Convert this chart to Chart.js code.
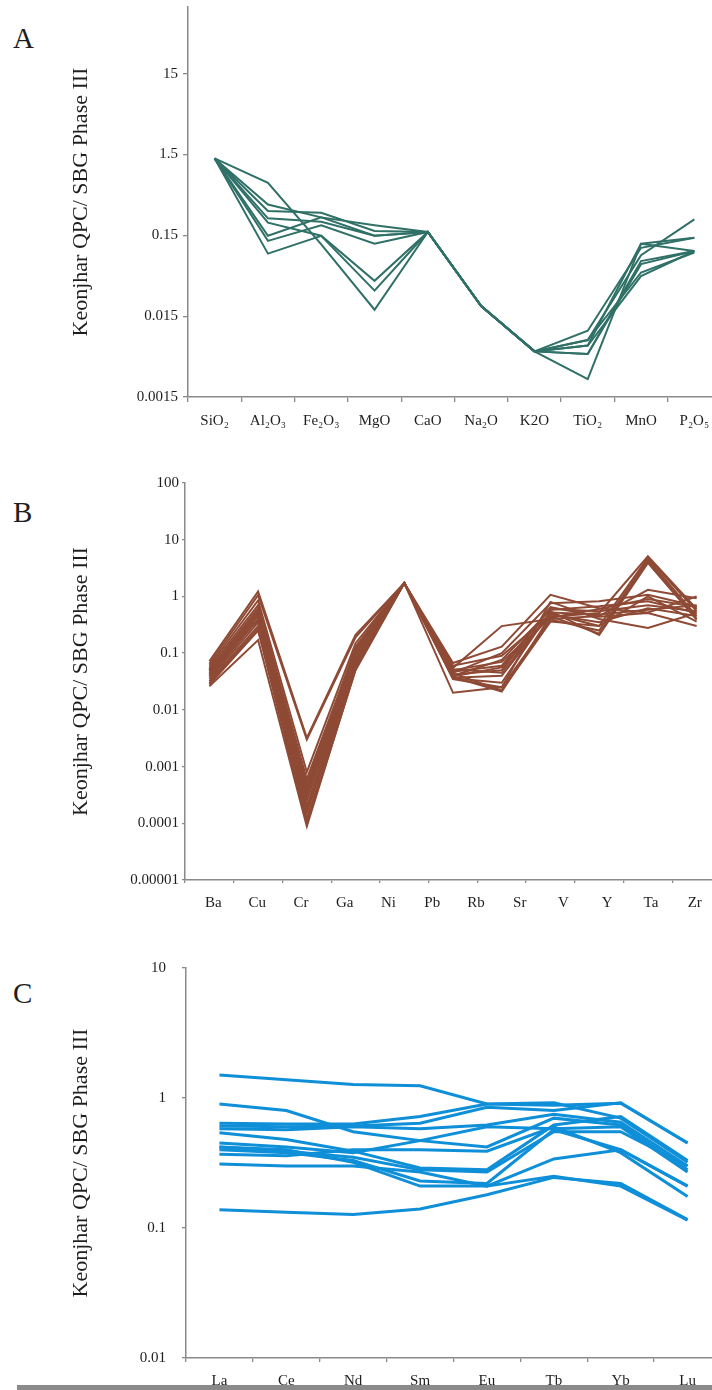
<!DOCTYPE html>
<html>
<head>
<meta charset="utf-8">
<script src="https://cdn.jsdelivr.net/npm/chart.js@4.4.1/dist/chart.umd.min.js"></script>
<style>
  html, body { margin: 0; padding: 0; background: #fff; }
  body { position: relative; width: 712px; height: 1390px; overflow: hidden; }
  canvas { position: absolute; left: 0; }
  .tag { position: absolute; left: 13px; font: 29px/29px "Liberation Serif", "Times New Roman", serif; color: #1e1e1e; }
  #rule { position: absolute; left: 17px; top: 1385px; width: 695px; height: 5px; background: #8a8a8a; z-index: 5; }
</style>
</head>
<body>
<div class="tag" style="top:24px">A</div>
<div class="tag" style="top:498px">B</div>
<div class="tag" style="top:979px">C</div>
<canvas id="panelA"></canvas>
<canvas id="panelB"></canvas>
<canvas id="panelC"></canvas>
<div id="rule"></div>
<script>
// ---- A: major oxides ----
const oxideLabels = ['SiO₂', 'Al₂O₃', 'Fe₂O₃', 'MgO', 'CaO', 'Na₂O', 'K2O', 'TiO₂', 'MnO', 'P₂O₅'];
const oxideSamples = [
  [1.34, 0.67, 0.116, 0.018, 0.165, 0.02, 0.0055, 0.0099, 0.105, 0.14],
  [1.34, 0.36, 0.25, 0.20, 0.165, 0.02, 0.0055, 0.0076, 0.085, 0.236],
  [1.34, 0.30, 0.285, 0.17, 0.165, 0.02, 0.0055, 0.0065, 0.118, 0.14],
  [1.34, 0.243, 0.22, 0.148, 0.165, 0.02, 0.0055, 0.0051, 0.072, 0.096],
  [1.34, 0.215, 0.148, 0.041, 0.165, 0.02, 0.0055, 0.0051, 0.066, 0.096],
  [1.34, 0.148, 0.25, 0.148, 0.165, 0.02, 0.0055, 0.0025, 0.118, 0.096],
  [1.34, 0.128, 0.20, 0.118, 0.165, 0.02, 0.0055, 0.0076, 0.052, 0.092],
  [1.34, 0.089, 0.148, 0.031, 0.165, 0.02, 0.0055, 0.0065, 0.047, 0.096]
];
const oxideTicks = [0.0015, 0.015, 0.15, 1.5, 15];
const oxideTickLabels = ['0.0015', '0.015', '0.15', '1.5', '15'];

// ---- B: trace elements ----
const traceLabels = ['Ba', 'Cu', 'Cr', 'Ga', 'Ni', 'Pb', 'Rb', 'Sr', 'V', 'Y', 'Ta', 'Zr'];
const traceSamples = [
  [0.072, 1.22, 0.0032, 0.21, 1.72, 0.067, 0.13, 1.07, 0.62, 0.52, 1.0],
  [0.065, 1.05, 0.0030, 0.19, 1.72, 0.055, 0.30, 0.40, 0.45, 1.31, 0.93],
  [0.060, 0.85, 0.0008, 0.15, 1.72, 0.045, 0.10, 0.76, 0.82, 1.07, 0.67],
  [0.055, 0.70, 0.0006, 0.12, 1.72, 0.040, 0.076, 0.58, 0.67, 0.82, 0.51],
  [0.050, 0.60, 0.0005, 0.11, 1.72, 0.039, 0.056, 0.44, 0.51, 5.1, 0.60],
  [0.045, 0.55, 0.0004, 0.10, 1.72, 0.037, 0.040, 0.50, 0.30, 4.8, 0.55],
  [0.042, 0.50, 0.00035, 0.09, 1.72, 0.035, 0.025, 0.39, 0.25, 4.5, 0.45],
  [0.040, 0.45, 0.0003, 0.08, 1.72, 0.038, 0.021, 0.45, 0.22, 4.2, 0.40],
  [0.038, 0.40, 0.00025, 0.075, 1.72, 0.036, 0.030, 0.55, 0.21, 3.9, 0.39],
  [0.035, 0.35, 0.0002, 0.07, 1.72, 0.042, 0.050, 0.65, 0.44, 0.51, 0.30],
  [0.032, 0.30, 0.00015, 0.06, 1.72, 0.020, 0.025, 0.80, 0.40, 0.277, 0.51],
  [0.030, 0.27, 0.00012, 0.055, 1.72, 0.047, 0.060, 0.60, 0.55, 0.70, 0.55],
  [0.028, 0.25, 0.0001, 0.05, 1.72, 0.050, 0.070, 0.42, 0.60, 0.90, 0.65],
  [0.026, 0.17, 0.000088, 0.052, 1.72, 0.060, 0.090, 0.48, 0.35, 0.62, 0.45],
  [0.048, 0.62, 0.00045, 0.13, 1.72, 0.044, 0.022, 0.36, 0.30, 1.0, 0.36],
  [0.052, 0.38, 0.00018, 0.065, 1.72, 0.052, 0.045, 0.52, 0.48, 0.58, 0.70]
];
const traceTicks = [0.00001, 0.0001, 0.001, 0.01, 0.1, 1, 10, 100];
const traceTickLabels = ['0.00001', '0.0001', '0.001', '0.01', '0.1', '1', '10', '100'];

// ---- C: rare earth elements ----
const reeLabels = ['La', 'Ce', 'Nd', 'Sm', 'Eu', 'Tb', 'Yb', 'Lu'];
const reeSamples = [
  [1.50, 1.38, 1.27, 1.24, 0.90, 0.88, 0.91, 0.45],
  [0.90, 0.80, 0.55, 0.47, 0.42, 0.70, 0.62, 0.28],
  [0.64, 0.63, 0.63, 0.72, 0.90, 0.92, 0.70, 0.32],
  [0.61, 0.60, 0.61, 0.64, 0.85, 0.80, 0.92, 0.45],
  [0.58, 0.57, 0.60, 0.58, 0.62, 0.75, 0.65, 0.30],
  [0.54, 0.48, 0.39, 0.29, 0.28, 0.62, 0.72, 0.33],
  [0.45, 0.42, 0.38, 0.47, 0.60, 0.58, 0.60, 0.27],
  [0.42, 0.39, 0.35, 0.28, 0.27, 0.55, 0.55, 0.30],
  [0.40, 0.38, 0.33, 0.23, 0.22, 0.57, 0.40, 0.21],
  [0.37, 0.36, 0.40, 0.40, 0.39, 0.60, 0.38, 0.175],
  [0.31, 0.30, 0.30, 0.27, 0.21, 0.34, 0.40, 0.21],
  [0.42, 0.40, 0.32, 0.21, 0.21, 0.25, 0.21, 0.115],
  [0.138, 0.132, 0.127, 0.14, 0.18, 0.245, 0.22, 0.116]
];
const reeTicks = [0.01, 0.1, 1, 10];
const reeTickLabels = ['0.01', '0.1', '1', '10'];

const axisTitle = 'Keonjhar QPC/ SBG Phase III';

const SERIF = "'Liberation Serif', 'Times New Roman', serif";
const TEXT = '#1e1e1e';
const AXIS = '#8a8a8a';
const CANVAS_W = 760;
const PAD_TOP = 20;
const NAME_BAND = 40;

function drawPanel(id, cfg) {
  const cv = document.getElementById(id);
  const plotH = cfg.plotBottom - cfg.plotTop;
  cv.width = CANVAS_W;
  cv.height = PAD_TOP + plotH + cfg.tickLen + NAME_BAND;
  cv.style.top = (cfg.plotTop - PAD_TOP) + 'px';
  const nSlots = cfg.samples[0].length;
  const slotEdges = Array.from({ length: nSlots + 1 }, (_, i) => i - 0.5);

  new Chart(cv, {
    type: 'line',
    data: {
      datasets: cfg.samples.map(vals => ({
        data: vals.map((v, i) => ({ x: i, y: v })),
        borderColor: cfg.color,
        borderWidth: cfg.lineWidth,
        pointRadius: 0,
        fill: false,
        tension: 0,
        borderJoinStyle: 'miter',
        borderCapStyle: 'butt'
      }))
    },
    options: {
      responsive: false,
      animation: false,
      devicePixelRatio: 1,
      events: [],
      layout: { padding: { top: PAD_TOP, right: CANVAS_W - cfg.plotRight, bottom: 0, left: 0 } },
      plugins: { legend: { display: false }, tooltip: { enabled: false } },
      scales: {
        x: {
          type: 'linear', position: 'bottom', weight: 0,
          min: -0.5, max: nSlots - 0.5, bounds: 'data',
          afterBuildTicks: s => { s.ticks = slotEdges.map(v => ({ value: v })); },
          afterFit: s => { s.height = cfg.tickLen; },
          ticks: { display: false },
          grid: { drawOnChartArea: false, drawTicks: true, tickLength: cfg.tickLen, color: AXIS, lineWidth: 1.3 },
          border: { color: AXIS, width: 1.5 }
        },
        names: {
          type: 'linear', position: 'bottom', weight: 1,
          min: cfg.nameMin, max: cfg.nameMax, bounds: 'data',
          afterBuildTicks: s => { s.ticks = cfg.names.map((_, i) => ({ value: i })); },
          afterFit: s => { s.height = NAME_BAND; },
          grid: { display: false, drawTicks: false },
          border: { display: false },
          ticks: {
            autoSkip: false, maxRotation: 0, padding: cfg.namePad, color: TEXT,
            font: { family: SERIF, size: 15 },
            callback: v => cfg.names[Math.round(v)]
          }
        },
        y: {
          type: 'logarithmic', min: cfg.yMin, max: cfg.yMax, bounds: 'data',
          afterBuildTicks: s => { s.ticks = cfg.ticks.map(v => ({ value: v })); },
          afterFit: s => { s.width = cfg.plotLeft; },
          grid: { drawOnChartArea: false, tickLength: cfg.yTickLen, color: AXIS, lineWidth: 1.3 },
          border: { color: AXIS, width: 1.5 },
          ticks: {
            padding: cfg.yTickPad, color: TEXT,
            font: { family: SERIF, size: 15 },
            callback: (v, i) => cfg.tickLabels[i]
          },
          title: {
            display: true, text: axisTitle, color: TEXT,
            font: { family: SERIF, size: 22 },
            padding: { top: 68, bottom: 0 }
          }
        }
      }
    }
  });
}

drawPanel('panelA', {
  samples: oxideSamples, names: oxideLabels, ticks: oxideTicks, tickLabels: oxideTickLabels,
  color: '#2f7067', lineWidth: 2,
  yMin: 0.0015, yMax: 100,
  plotLeft: 188, plotRight: 721, plotTop: 7, plotBottom: 397,
  tickLen: 5, yTickLen: 5, yTickPad: 5, namePad: 10.5,
  nameMin: -0.5, nameMax: 9.5
});

drawPanel('panelB', {
  samples: traceSamples, names: traceLabels, ticks: traceTicks, tickLabels: traceTickLabels,
  color: '#8e4a35', lineWidth: 2,
  yMin: 0.00001, yMax: 100,
  plotLeft: 185, plotRight: 721, plotTop: 483, plotBottom: 880,
  tickLen: 3, yTickLen: 3, yTickPad: 3, namePad: 10.7,
  nameMin: -0.65, nameMax: 11.6
});

drawPanel('panelC', {
  samples: reeSamples, names: reeLabels, ticks: reeTicks, tickLabels: reeTickLabels,
  color: '#0e8fd8', lineWidth: 3,
  yMin: 0.01, yMax: 10,
  plotLeft: 186, plotRight: 721, plotTop: 963, plotBottom: 1358,
  tickLen: 4, yTickLen: 4, yTickPad: 16, namePad: 10.5,
  nameMin: -0.5, nameMax: 7.5
});
</script>
</body>
</html>
